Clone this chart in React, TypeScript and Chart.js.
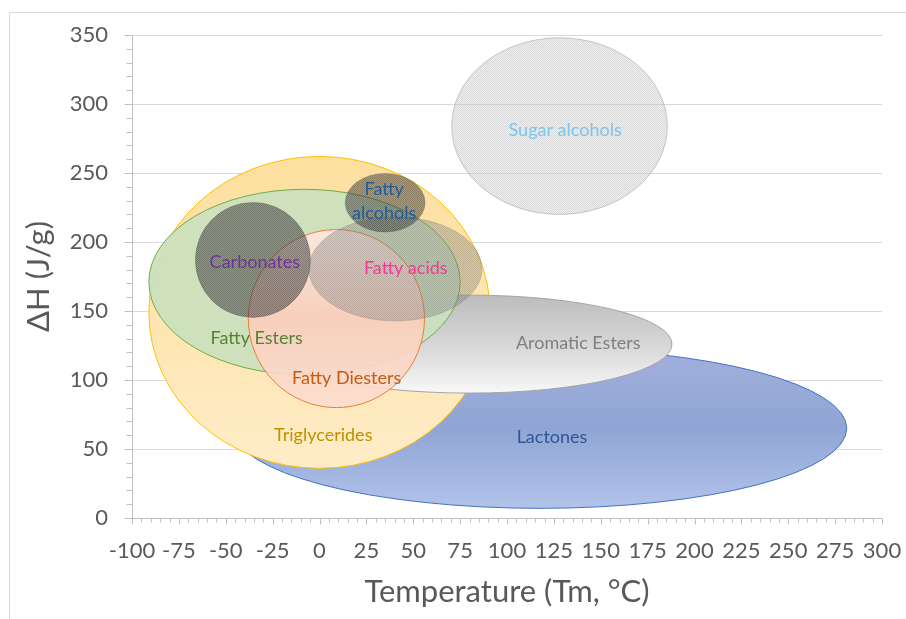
import { useEffect, useRef } from "react";
import { Chart, registerables } from "chart.js";

Chart.register(...registerables);

// Groups, in drawing order (back to front)
const groups = [
  "Sugar alcohols",
  "Lactones",
  "Triglycerides",
  "Aromatic Esters",
  "Fatty Esters",
  "Fatty Diesters",
  "Carbonates",
  "Fatty acids",
  "Fatty alcohols",
];
// Ellipse centre (Tm °C, ΔH J/g) and half-extents
const centerTm = [128, 117.5, 0, 80, -8, 9, -35.5, 40.5, 35];
const centerDH = [284, 65, 149, 126, 171, 144.5, 187, 180.5, 228.5];
const halfTm = [57.5, 163.7, 91, 108, 83, 47, 30.7, 46.2, 21.3];
const halfDH = [64, 58, 113, 35.5, 67.2, 64.5, 41.7, 37.7, 21.2];
// Label anchor (Tm °C, ΔH J/g)
const labelTm = [131, 124, 2, 138, -33.5, 14.5, -34.5, 46, 34.5];
const labelDH = [281, 58.5, 60, 126.5, 130.5, 101.5, 185.5, 181, 229.5];
const labelLines = [
  ["Sugar alcohols"],
  ["Lactones"],
  ["Triglycerides"],
  ["Aromatic Esters"],
  ["Fatty Esters"],
  ["Fatty Diesters"],
  ["Carbonates"],
  ["Fatty acids"],
  ["Fatty", "alcohols"],
];

const xTickValues = [-100, -75, -50, -25, 0, 25, 50, 75, 100, 125, 150, 175, 200, 225, 250, 275, 300];
const yTickValues = [0, 50, 100, 150, 200, 250, 300, 350];
const xTitle = "Temperature (Tm, °C)";
const yTitle = "ΔH (J/g)";

const labelColors = ["#7cc6ee", "#2f5597", "#bf9000", "#7f7f7f", "#548235", "#c55a11", "#7030a0", "#ff3399", "#1f5c9e"];
const borderColors = [
  "rgba(160,160,160,0.55)",
  "#4472c4",
  "#ffc000",
  "#a5a5a5",
  "#70ad47",
  "#ed7d31",
  "rgba(60,60,60,0.25)",
  "rgba(120,120,120,0.25)",
  "rgba(60,60,60,0.25)",
];

const FONT = "Lato, 'Open Sans', sans-serif";

function makePattern(ctx: CanvasRenderingContext2D, a: string, b: string) {
  const c = document.createElement("canvas");
  c.width = 2;
  c.height = 2;
  const g = c.getContext("2d")!;
  g.fillStyle = a;
  g.fillRect(0, 0, 1, 1);
  g.fillRect(1, 1, 1, 1);
  g.fillStyle = b;
  g.fillRect(1, 0, 1, 1);
  g.fillRect(0, 1, 1, 1);
  return ctx.createPattern(c, "repeat")!;
}

function fillFor(ctx: CanvasRenderingContext2D, i: number, top: number, bottom: number): any {
  const lin = (stops: [number, string][]) => {
    const g = ctx.createLinearGradient(0, top, 0, bottom);
    stops.forEach(([o, c]) => g.addColorStop(o, c));
    return g;
  };
  switch (i) {
    case 0:
      return makePattern(ctx, "rgba(185,185,185,0.5)", "rgba(218,218,218,0.5)");
    case 1:
      return lin([
        [0, "#a3afdb"],
        [0.5, "#8fa5d5"],
        [1, "#b2c3e9"],
      ]);
    case 2:
      return lin([
        [0, "#fddf9f"],
        [0.5, "#fee5b0"],
        [1, "#ffedc8"],
      ]);
    case 3:
      return lin([
        [0, "#bdbdbd"],
        [0.5, "#d6d6d6"],
        [1, "#f8f8f8"],
      ]);
    case 4:
      return "rgba(203,223,190,0.92)";
    case 5:
      return lin([
        [0, "rgba(253,232,224,0.92)"],
        [0.5, "rgba(251,206,188,0.92)"],
        [1, "rgba(252,222,208,0.92)"],
      ]);
    case 6:
      return makePattern(ctx, "rgba(40,40,40,0.57)", "rgba(80,80,80,0.5)");
    case 7:
      return makePattern(ctx, "rgba(105,105,105,0.42)", "rgba(150,150,150,0.35)");
    case 8:
      return makePattern(ctx, "rgba(40,40,40,0.55)", "rgba(80,80,80,0.48)");
  }
  return "#ccc";
}

const ellipsePlugin = {
  id: "ellipses",
  beforeDatasetsDraw(chart: any) {
    const { ctx, scales } = chart;
    const xs = scales.x;
    const ys = scales.y;
    ctx.save();
    for (let i = 0; i < groups.length; i++) {
      const px = xs.getPixelForValue(centerTm[i]);
      const py = ys.getPixelForValue(centerDH[i]);
      const rx = Math.abs(xs.getPixelForValue(centerTm[i] + halfTm[i]) - px);
      const ry = Math.abs(ys.getPixelForValue(centerDH[i] + halfDH[i]) - py);
      ctx.beginPath();
      ctx.ellipse(px, py, rx, ry, 0, 0, Math.PI * 2);
      ctx.fillStyle = fillFor(ctx, i, py - ry, py + ry);
      ctx.fill();
      ctx.lineWidth = 1;
      ctx.strokeStyle = borderColors[i];
      ctx.stroke();
    }
    ctx.font = `18px ${FONT}`;
    ctx.textAlign = "center";
    ctx.textBaseline = "middle";
    for (let i = 0; i < groups.length; i++) {
      const px = xs.getPixelForValue(labelTm[i]);
      const py = ys.getPixelForValue(labelDH[i]);
      const lines = labelLines[i];
      const lh = 24;
      ctx.fillStyle = labelColors[i];
      lines.forEach((t, k) => {
        ctx.fillText(t, px, py + (k - (lines.length - 1) / 2) * lh);
      });
    }
    ctx.restore();
  },
  afterDraw(chart: any) {
    const { ctx, scales, chartArea } = chart;
    const xs = scales.x;
    const ys = scales.y;
    ctx.save();
    // outer chart frame
    ctx.strokeStyle = "#d9d9d9";
    ctx.lineWidth = 1;
    ctx.beginPath();
    ctx.moveTo(9.5, chart.height);
    ctx.lineTo(9.5, 12.5);
    ctx.lineTo(chart.width, 12.5);
    ctx.stroke();
    // axes
    ctx.strokeStyle = "#bfbfbf";
    const L = Math.round(chartArea.left) + 0.5;
    const B = Math.round(chartArea.bottom) + 0.5;
    ctx.beginPath();
    ctx.moveTo(L, Math.round(chartArea.top));
    ctx.lineTo(L, B);
    ctx.lineTo(Math.round(chartArea.right), B);
    for (let v = 0; v <= 350; v += 10) {
      const y = Math.round(ys.getPixelForValue(v)) + 0.5;
      const len = v % 50 === 0 ? 8 : 6;
      ctx.moveTo(L - len, y);
      ctx.lineTo(L, y);
    }
    for (let v = -100; v <= 300; v += 5) {
      const x = Math.round(xs.getPixelForValue(v)) + 0.5;
      const len = v % 25 === 0 ? 6 : 4;
      ctx.moveTo(x, B);
      ctx.lineTo(x, B + len);
    }
    ctx.stroke();
    // titles
    ctx.fillStyle = "#595959";
    ctx.font = `31px ${FONT}`;
    ctx.textAlign = "center";
    ctx.textBaseline = "alphabetic";
    ctx.fillText(xTitle, (chartArea.left + chartArea.right) / 2, 602);
    ctx.translate(49, (chartArea.top + chartArea.bottom) / 2);
    ctx.rotate(-Math.PI / 2);
    ctx.fillText(yTitle, 0, 0);
    ctx.restore();
  },
};

export default function App() {
  const ref = useRef<HTMLCanvasElement>(null);
  useEffect(() => {
    const canvas = ref.current!;
    const chart = new Chart(canvas, {
      type: "scatter",
      data: {
        datasets: groups.map((g, i) => ({
          label: g,
          data: [{ x: centerTm[i], y: centerDH[i] }],
          pointRadius: 0,
          pointHoverRadius: 0,
        })),
      },
      options: {
        animation: false,
        responsive: false,
        devicePixelRatio: 1,
        events: [],
        layout: { padding: { top: 35, right: 24, bottom: 0, left: 0 } },
        plugins: { legend: { display: false }, tooltip: { enabled: false }, title: { display: false } },
        scales: {
          x: {
            type: "linear",
            min: -100,
            max: 300,
            afterBuildTicks: (s: any) => {
              s.ticks = xTickValues.map((v) => ({ value: v }));
            },
            afterFit: (s: any) => {
              s.height = 101;
              s.paddingLeft = 0;
              s.paddingRight = 0;
            },
            grid: { display: false, drawTicks: false },
            border: { display: false },
            ticks: {
              padding: 20,
              maxRotation: 0,
              autoSkip: false,
              color: "#595959",
              font: { family: FONT, size: 22 },
              callback: (v: any) => String(v),
            },
          },
          y: {
            type: "linear",
            min: 0,
            max: 350,
            afterBuildTicks: (s: any) => {
              s.ticks = yTickValues.map((v) => ({ value: v }));
            },
            afterFit: (s: any) => {
              s.width = 132;
              s.paddingTop = 0;
              s.paddingBottom = 0;
            },
            grid: { color: "#d9d9d9", drawTicks: false, lineWidth: 1 },
            border: { display: false },
            ticks: {
              padding: 24,
              autoSkip: false,
              color: "#595959",
              font: { family: FONT, size: 22 },
              callback: (v: any) => String(v),
            },
          },
        },
      },
      plugins: [ellipsePlugin],
    });
    return () => chart.destroy();
  }, []);
  return (
    <div style={{ position: "absolute", left: 0, top: 0, width: 906, height: 619, background: "#fff" }}>
      <canvas ref={ref} width={906} height={619} style={{ display: "block", width: 906, height: 619 }} />
    </div>
  );
}
